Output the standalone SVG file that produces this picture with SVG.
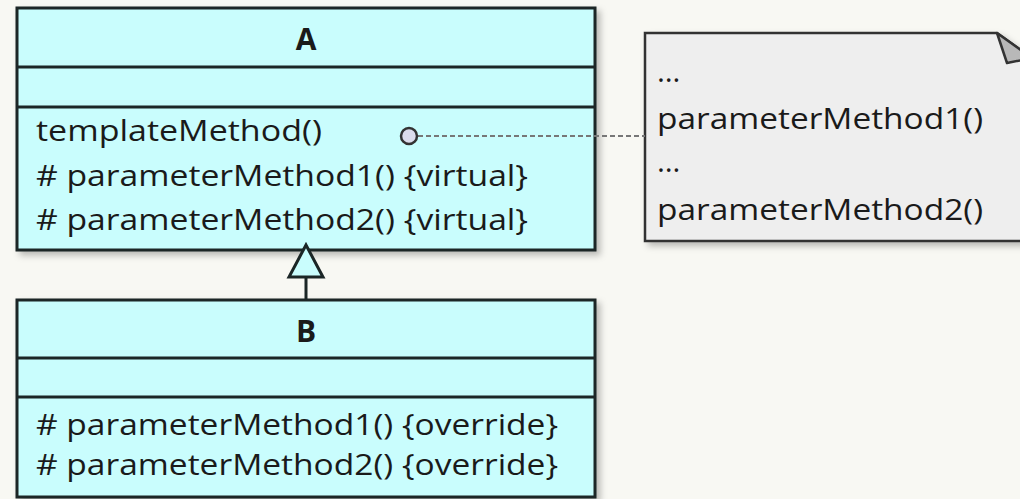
<svg xmlns="http://www.w3.org/2000/svg" width="1020" height="499" viewBox="0 0 1020 499">
<style>
.box{fill:#c9fdfd;stroke:#1b2626;stroke-width:3}
.sep{stroke:#1b2626;stroke-width:3}
.t{font-family:"Open Sans","Noto Sans",sans-serif;font-size:30px;fill:#1a1a1a}
.b{font-weight:bold;text-anchor:middle}
</style>
<defs>
<filter id="sh" x="-5%" y="-5%" width="115%" height="120%">
<feDropShadow dx="4" dy="4" stdDeviation="3" flood-color="#000" flood-opacity="0.25"/>
</filter>
</defs>
<rect width="1020" height="499" fill="#f8f8f3"/>
<g id="note">
<path d="M645,33 H997 L1032,58 V241 H645 Z" fill="#eeeeee" stroke="#333" stroke-width="2.5" filter="url(#sh)"/>
<path d="M997,33 L1007,63 L1032,58 Z" fill="#b8b8b8" stroke="#333" stroke-width="2.5" stroke-linejoin="round"/>
<text class="t" x="657" y="82">…</text>
<text class="t" x="657" y="129" textLength="326" lengthAdjust="spacingAndGlyphs">parameterMethod1()</text>
<text class="t" x="657" y="172">…</text>
<text class="t" x="657" y="220" textLength="326" lengthAdjust="spacingAndGlyphs">parameterMethod2()</text>
</g>
<g id="A">
<rect class="box" x="17" y="8" width="578" height="242" filter="url(#sh)"/>
<line class="sep" x1="17" y1="67" x2="595" y2="67"/>
<line class="sep" x1="17" y1="107" x2="595" y2="107"/>
<text class="t b" x="306" y="50">A</text>
<text class="t" x="36" y="141" textLength="286" lengthAdjust="spacingAndGlyphs">templateMethod()</text>
<text class="t" x="36" y="186" textLength="492" lengthAdjust="spacingAndGlyphs"># parameterMethod1() {virtual}</text>
<text class="t" x="36" y="230" textLength="492" lengthAdjust="spacingAndGlyphs"># parameterMethod2() {virtual}</text>
</g>
<g id="B">
<rect class="box" x="17" y="300" width="578" height="197" filter="url(#sh)"/>
<line class="sep" x1="17" y1="358" x2="595" y2="358"/>
<line class="sep" x1="17" y1="397" x2="595" y2="397"/>
<text class="t b" x="306" y="342">B</text>
<text class="t" x="36" y="435" textLength="522" lengthAdjust="spacingAndGlyphs"># parameterMethod1() {override}</text>
<text class="t" x="36" y="475" textLength="522" lengthAdjust="spacingAndGlyphs"># parameterMethod2() {override}</text>
</g>
<g id="connectors">
<line x1="306" y1="277" x2="306" y2="300" stroke="#1b2626" stroke-width="3"/>
<path d="M306,245 L289,277 H323 Z" fill="#c9fdfd" stroke="#1b2626" stroke-width="3" stroke-linejoin="miter"/>
<line x1="418" y1="136" x2="645" y2="136" stroke="#777" stroke-width="2" stroke-dasharray="5,3"/>
<circle cx="409" cy="136" r="8" fill="#dcdcec" stroke="#333" stroke-width="2.5"/>
</g>
</svg>
